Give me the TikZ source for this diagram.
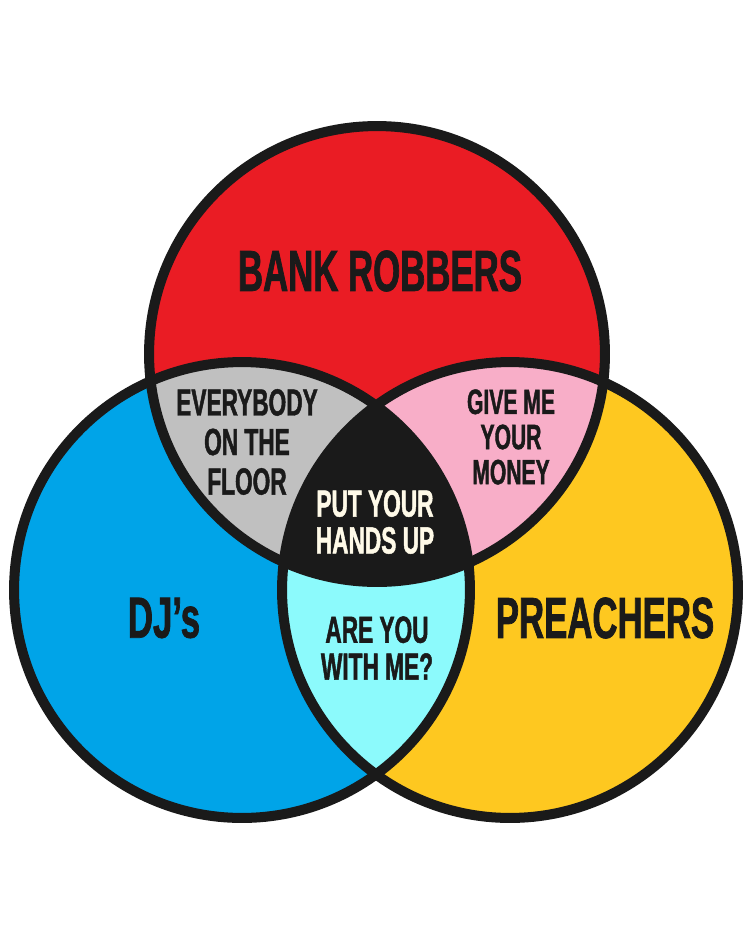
\documentclass[tikz,border=0pt]{standalone}
\usepackage{fontspec}
\newfontfamily\vennfont{Liberation Sans}[FakeStretch=0.6,FakeBold=1.2]
\usetikzlibrary{positioning}
\definecolor{robred}{RGB}{234,28,36}
\definecolor{djblue}{RGB}{0,164,232}
\definecolor{preyellow}{RGB}{254,200,32}
\definecolor{floorgray}{RGB}{192,192,192}
\definecolor{moneypink}{RGB}{248,174,200}
\definecolor{withcyan}{RGB}{140,250,252}
\definecolor{ink}{RGB}{26,26,26}
\definecolor{cream}{RGB}{255,250,232}
\def\rad{4.56cm}
\tikzset{
    ring/.style={
        draw=ink,
        line width=5.7pt},
    setname/.style={
        font=\vennfont\bfseries\fontsize{33}{33}\selectfont,
        text=ink},
    overlap/.style={
        font=\vennfont\bfseries\fontsize{21.5}{21}\selectfont,
        align=center,
        text=ink,
        inner sep=0pt}}

\begin{document}
\begin{tikzpicture}[x=0.02cm,y=-0.02cm]
        \useasboundingbox[fill=white] (0,0) rectangle (750,938);
        \coordinate (rob) at (377,354);
        \coordinate (dj) at (242,590);
        \coordinate (pre) at (510,590);
        \fill[robred] (rob) circle (\rad);
        \fill[djblue] (dj) circle (\rad);
        \fill[preyellow] (pre) circle (\rad);
        \begin{scope}
            \clip (dj) circle (\rad);
            \fill[withcyan] (pre) circle (\rad);
        \end{scope}
        \begin{scope}
            \clip (rob) circle (\rad);
            \fill[floorgray] (dj) circle (\rad);
            \fill[moneypink] (pre) circle (\rad);
            \clip (dj) circle (\rad);
            \fill[ink] (pre) circle (\rad);
        \end{scope}
        \draw[ring] (rob) circle (\rad);
        \draw[ring] (dj) circle (\rad);
        \draw[ring] (pre) circle (\rad);
        \node[setname] (robbers) at (380,271) {BANK ROBBERS};
        \node[setname] (djs) at (164,618) {DJ’s};
        \node[setname] (preachers) at (605,618) {PREACHERS};
        \node[overlap,font=\vennfont\bfseries\fontsize{21.5}{22.5}\selectfont] (floor) at (247,442) {EVERYBODY\\ON THE\\FLOOR};
        \node[overlap,font=\vennfont\bfseries\fontsize{20}{20}\selectfont] (money) at (511,437) {GIVE ME\\YOUR\\MONEY};
        \node[overlap,text=cream] (hands) at (375,522) {PUT YOUR\\HANDS UP};
        \node[overlap] (withme) at (377,648) {ARE YOU\\WITH ME?};
    \end{tikzpicture}
\end{document}
